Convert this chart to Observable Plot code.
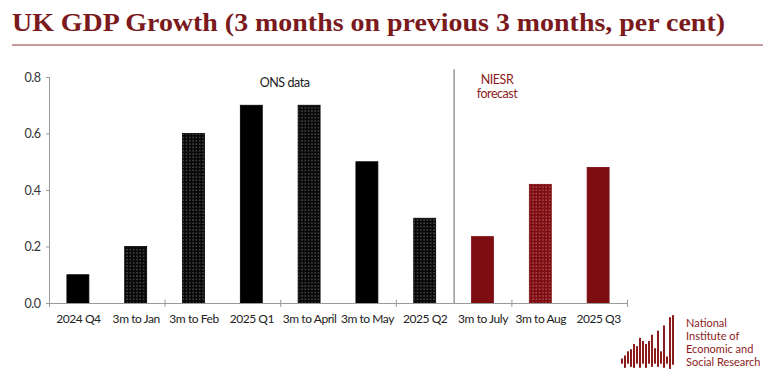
<!DOCTYPE html>
<html>
<head>
<meta charset="utf-8">
<script src="https://cdn.jsdelivr.net/npm/d3@7"></script>
<script src="https://cdn.jsdelivr.net/npm/@observablehq/plot@0.6"></script>
<style>
  html, body { margin: 0; padding: 0; background: #fff; }
  body { width: 775px; height: 378px; position: relative; overflow: hidden; font-family: Lato, sans-serif; }
  #title { position: absolute; left: 0; top: 0; }
  #chart { position: absolute; left: 0; top: 50px; }
  #chart svg text { letter-spacing: -0.45px; }
  #logo { position: absolute; left: 612px; top: 312px; }
  #logotext { position: absolute; left: 686px; top: 316px; color: #8b1c1c; font: 11px/13px Lato, sans-serif; }
</style>
</head>
<body>
<svg id="title" width="775" height="50">
  <text x="12" y="31" textLength="713" lengthAdjust="spacingAndGlyphs" font-family="Liberation Serif" font-weight="bold" font-size="26" fill="#7a1a1c">UK GDP Growth (3 months on previous 3 months, per cent)</text>
  <line x1="12" x2="763" y1="45" y2="45" stroke="#c99a9a" stroke-width="2"/>
</svg>
<div id="chart"></div>
<div id="logo"></div>
<div id="logotext">National<br>Institute of<br>Economic and<br>Social Research</div>
<script>
// ---- data ----
const categories = ["2024 Q4", "3m to Jan", "3m to Feb", "2025 Q1", "3m to April", "3m to May", "2025 Q2", "3m to July", "3m to Aug", "2025 Q3"];
const growth = [0.1, 0.2, 0.6, 0.7, 0.7, 0.5, 0.3, 0.235, 0.42, 0.48];
const source = ["ONS", "ONS", "ONS", "ONS", "ONS", "ONS", "ONS", "NIESR", "NIESR", "NIESR"];
const dotted = [false, true, true, false, true, false, true, false, true, false];
const yTicks = [0, 0.2, 0.4, 0.6, 0.8];
const boundaryStarts = ["2024 Q4", "3m to Feb", "3m to April", "2025 Q2", "3m to Aug"];

// logo bars (top and bottom heights, arbitrary units)
const logoTop = [13, 16, 20, 22, 27, 25, 33, 30, 27, 30, 36, 23, 40, 20, 45, 15, 53, 55];
const logoBottom = [8, 4, 8, 5, 4, 8, 4, 8, 4, 8, 5, 8, 5, 8, 4, 8, 3, 7];

const fills = {
  "ONS-solid": "#000000",
  "ONS-dotted": "url(#dotK)",
  "NIESR-solid": "#7d0d10",
  "NIESR-dotted": "url(#dotR)"
};
const data = categories.map((c, i) => ({
  cat: c,
  value: growth[i],
  fill: fills[source[i] + "-" + (dotted[i] ? "dotted" : "solid")],
  stroke: source[i] === "ONS" ? "#000" : "#7d0d10"
}));

const W = 640, ML = 49, MR = 13;
const step = (W - ML - MR) / categories.length;

const chart = Plot.plot({
  width: W,
  height: 290,
  marginLeft: ML,
  marginRight: MR,
  marginTop: 27,
  marginBottom: 37,
  style: { fontFamily: "Lato, sans-serif", fontSize: "12px", color: "#333", background: "transparent" },
  x: { domain: categories, paddingInner: 0.62, paddingOuter: 0.31, round: false, label: null },
  y: { domain: [0, 0.8], label: null },
  color: { type: "identity" },
  marks: [
    Plot.barY(data, { x: "cat", y: "value", fill: "fill", stroke: "stroke", strokeWidth: 0.8 }),
    Plot.axisY(yTicks, { tickSize: 3, tickPadding: 6, tickFormat: d3.format(".1f"), stroke: "#999", fill: "#333", fontSize: 12.5 }),
    Plot.axisX({ tickSize: 0, tickPadding: 11, fill: "#222", fontSize: 12 }),
    Plot.frame({ anchor: "left", stroke: "#9a9a9a" }),
    Plot.ruleY([0], { stroke: "#9a9a9a" }),
    Plot.ruleX(boundaryStarts, { x: d => d, dx: -step / 2, y1: 0.012, y2: -0.014, stroke: "#9a9a9a" }),
    Plot.ruleX([categories[categories.length - 1]], { x: d => d, dx: step / 2, y1: 0.012, y2: -0.014, stroke: "#9a9a9a" }),
    Plot.ruleX(["3m to July"], { x: d => d, dx: -step / 2, y1: 0, y2: 0.827, stroke: "#666", strokeWidth: 1 }),
    Plot.text(["ONS data"], { x: () => "3m to April", y: 0.78, dx: -25, fill: "#222", fontSize: 12.5 }),
    Plot.text(["NIESR\nforecast"], { x: () => "3m to July", y: 0.768, dx: 14, fill: "#8b1c1c", fontSize: 12.5, lineHeight: 1.12 })
  ]
});

// patterns for the dotted (monthly) bars
const ns = "http://www.w3.org/2000/svg";
const defs = document.createElementNS(ns, "defs");
defs.innerHTML = `
  <pattern id="dotK" width="3.3" height="3.3" patternUnits="userSpaceOnUse">
    <rect width="3.3" height="3.3" fill="#080808"/>
    <rect x="1.2" y="1.2" width="1" height="1" fill="#9a9a9a"/>
  </pattern>
  <pattern id="dotR" width="3.3" height="3.3" patternUnits="userSpaceOnUse">
    <rect width="3.3" height="3.3" fill="#7d0d10"/>
    <rect x="1.2" y="1.2" width="1" height="1" fill="#e0a0a0"/>
  </pattern>`;
chart.insertBefore(defs, chart.firstChild);
document.getElementById("chart").appendChild(chart);

// logo drawn as a tiny bar chart
const logoData = logoTop.map((t, i) => ({ i, top: t, bottom: logoBottom[i] }));
const logo = Plot.plot({
  width: 72,
  height: 60,
  margin: 0,
  marginLeft: 2,
  marginRight: 2,
  x: { domain: d3.range(logoTop.length), padding: 0.3, axis: null },
  y: { domain: [0, 58], axis: null },
  style: { background: "transparent" },
  marks: [
    Plot.barY(logoData, { x: "i", y1: "bottom", y2: "top", fill: "#8b1c1c" })
  ]
});
document.getElementById("logo").appendChild(logo);
</script>
</body>
</html>
